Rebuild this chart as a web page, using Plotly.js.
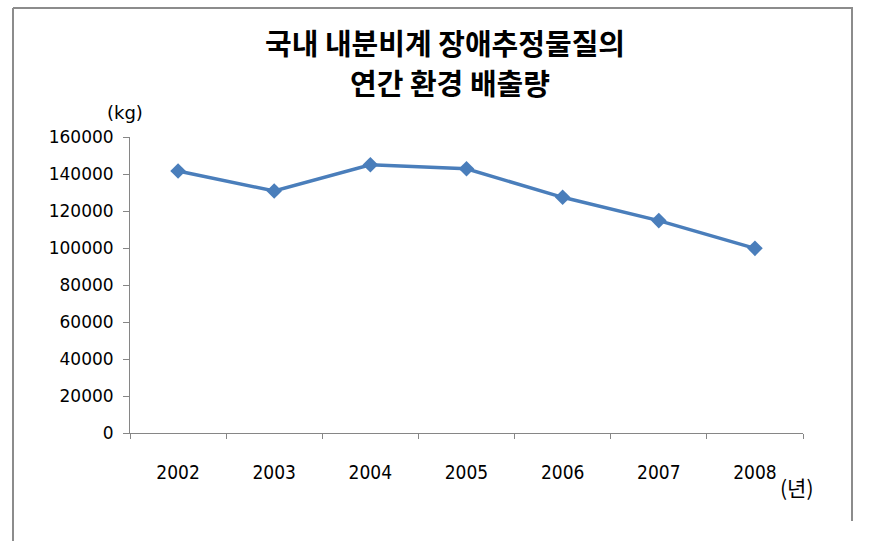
<!DOCTYPE html>
<html>
<head>
<meta charset="utf-8">
<script src="https://cdn.plot.ly/plotly-3.0.1.min.js"></script>
<style>
html,body{margin:0;padding:0;background:#fff;}
#chart{width:872px;height:541px;}
</style>
</head>
<body>
<div id="chart"></div>
<script>
const years = ["2002", "2003", "2004", "2005", "2006", "2007", "2008"];
const emissions = [141600, 130800, 145000, 142800, 127400, 114800, 99800];
const yTicks = [0, 20000, 40000, 60000, 80000, 100000, 120000, 140000, 160000];
const titleLines = ["국내 내분비계 장애추정물질의", "연간 환경 배출량"];
const yUnit = "(kg)";
const xUnit = "(년)";

const W = 872, H = 541;
const L = 130, R = 803, T = 137, B = 433;
const px2x = p => (p - L) / (R - L);
const px2y = p => (B - p) / (B - T);

const trace = {
  x: years,
  y: emissions,
  type: "scatter",
  mode: "lines+markers",
  line: {color: "#4a7ebb", width: 3.5},
  marker: {symbol: "diamond", size: 12, color: "#4a7ebb"},
  hoverinfo: "x+y"
};

const frameColor = "#8c8c8c";
const titleFont = {family: "'Noto Sans CJK KR', sans-serif", size: 29, color: "#000", weight: "bold"};
const layout = {
  width: W, height: H,
  margin: {l: L, r: W - R, t: T, b: H - B, pad: 0},
  paper_bgcolor: "#ffffff",
  plot_bgcolor: "#ffffff",
  showlegend: false,
  xaxis: {
    type: "category",
    range: [-0.5, years.length - 0.5],
    showgrid: false,
    zeroline: false,
    showline: true,
    linecolor: "#868686",
    linewidth: 1,
    ticks: "outside",
    tickson: "boundaries",
    ticklen: 5,
    tickcolor: "#868686",
    ticklabelstandoff: 22,
    tickfont: {family: "'DejaVu Sans Condensed', 'DejaVu Sans', sans-serif", size: 19, color: "#000"}
  },
  yaxis: {
    range: [0, 160000],
    tickvals: yTicks,
    ticktext: yTicks.map(String),
    showgrid: false,
    zeroline: false,
    showline: true,
    linecolor: "#868686",
    linewidth: 1,
    ticks: "outside",
    ticklen: 6,
    tickcolor: "#868686",
    ticklabelstandoff: 6,
    tickfont: {family: "'DejaVu Sans', sans-serif", size: 17, color: "#000"}
  },
  annotations: [
    {text: titleLines[0], xref: "paper", yref: "paper", x: px2x(445), y: px2y(42),
     xanchor: "center", yanchor: "middle", showarrow: false, font: titleFont},
    {text: titleLines[1], xref: "paper", yref: "paper", x: px2x(450), y: px2y(82),
     xanchor: "center", yanchor: "middle", showarrow: false, font: titleFont},
    {text: yUnit, xref: "paper", yref: "paper", x: px2x(125), y: px2y(112),
     xanchor: "center", yanchor: "middle", showarrow: false,
     font: {family: "'DejaVu Sans', sans-serif", size: 18, color: "#000"}},
    {text: xUnit, xref: "paper", yref: "paper", x: px2x(797), y: px2y(487),
     xanchor: "center", yanchor: "middle", showarrow: false,
     font: {family: "'Noto Sans CJK KR', sans-serif", size: 21, color: "#000"}}
  ],
  shapes: [
    {type: "line", xref: "paper", yref: "paper", x0: px2x(13), x1: px2x(853), y0: px2y(8), y1: px2y(8),
     line: {color: frameColor, width: 2}},
    {type: "line", xref: "paper", yref: "paper", x0: px2x(13), x1: px2x(13), y0: px2y(8), y1: px2y(545),
     line: {color: frameColor, width: 2}},
    {type: "line", xref: "paper", yref: "paper", x0: px2x(852), x1: px2x(852), y0: px2y(8), y1: px2y(521),
     line: {color: frameColor, width: 2}}
  ]
};

Plotly.newPlot("chart", [trace], layout, {displayModeBar: false, staticPlot: true});
</script>
</body>
</html>
